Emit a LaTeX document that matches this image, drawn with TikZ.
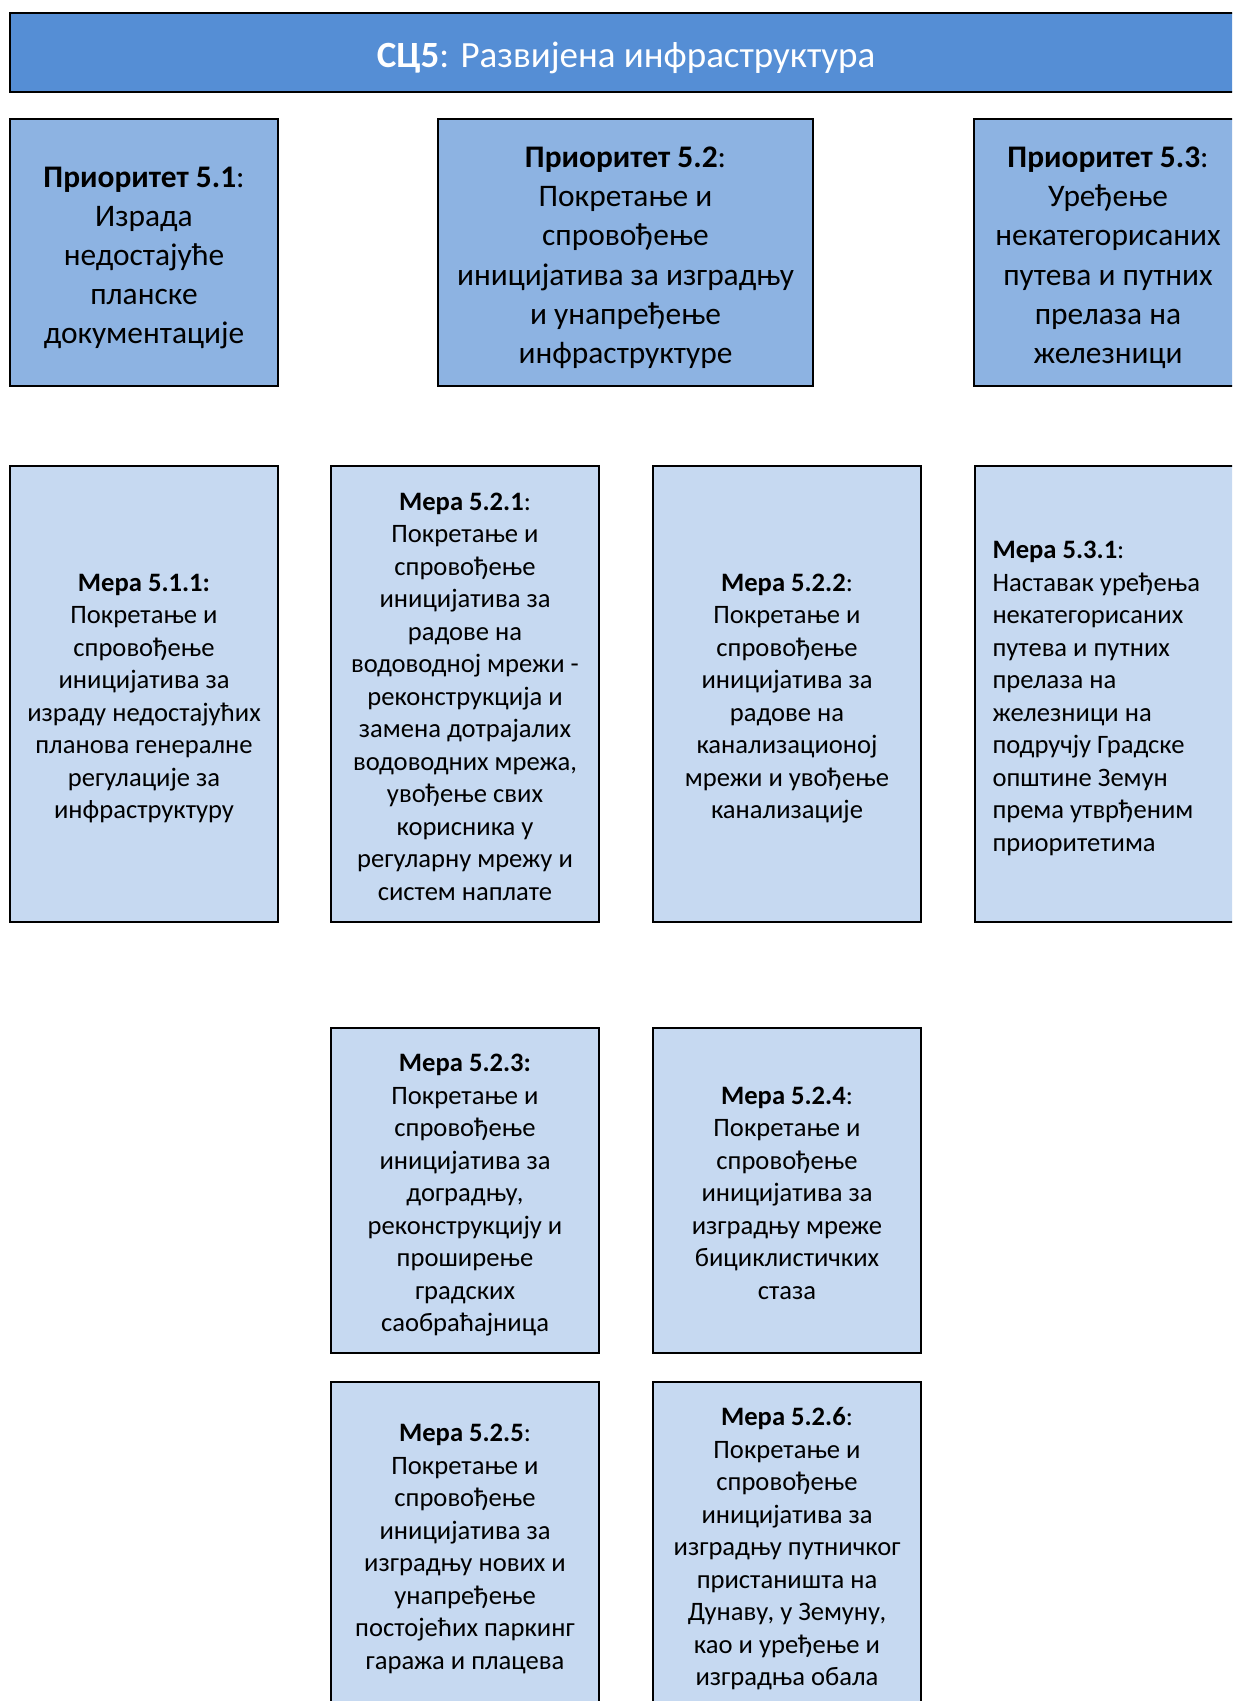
\documentclass[tikz,border=0pt]{standalone}
\usepackage{fontspec}
\setmainfont{Carlito}
\definecolor{bannerblue}{RGB}{85,142,213}
\definecolor{priofill}{RGB}{141,179,226}
\definecolor{merafill}{RGB}{198,217,241}
\newcommand{\topstrut}{\rule{0pt}{1.1em}}
\newcommand{\botstrut}{\rule[-0.269em]{0pt}{0pt}}
\tikzset{
  wordbox/.style={draw=black, line width=1.2pt, inner sep=0pt,
    execute at begin node=\topstrut, execute at end node=\botstrut},
  banner/.style={wordbox, fill=bannerblue, text=white,
    minimum width=616pt, minimum height=39.5pt,
    font=\fontsize{18.5}{22.5}\selectfont},
  prio/.style={wordbox, fill=priofill, align=flush center, text width=130pt,
    minimum height=133.5pt, font=\fontsize{15.7}{19.6}\selectfont},
  mera/.style={wordbox, fill=merafill, align=flush center, text width=130pt,
    minimum width=134pt, font=\fontsize{13.3}{16.25}\selectfont},
}
\begin{document}
\begin{tikzpicture}[x=0.5pt,y=-0.5pt]
  \useasboundingbox (0,0) rectangle (1232,1701);
  \clip (0,0) rectangle (1232,1701);
  % goal
  \node[banner] (sc5) at (626,52.5) {\textbf{СЦ5}: Развијена инфраструктура};
  % priorities
  \node[prio, minimum width=134pt] (p51) at (144,252.5)
    {\textbf{Приоритет 5.1}:\\Израда\\недостајуће\\планске\\документације};
  \node[prio, minimum width=187.5pt, text width=184pt] (p52) at (625.5,252.5)
    {\textbf{Приоритет 5.2}:\\Покретање и\\спровођење\\иницијатива за изградњу\\и унапређење\\инфраструктуре};
  \node[prio, minimum width=134pt] (p53) at (1108,252.5)
    {\textbf{Приоритет 5.3}:\\Уређење\\некатегорисаних\\путева и путних\\прелаза на\\железници};
  % measures, first row
  \node[mera, minimum height=228pt] (m511) at (144,694)
    {\textbf{Мера 5.1.1:}\\Покретање и\\спровођење\\иницијатива за\\израду недостајућих\\планова генералне\\регулације за\\инфраструктуру};
  \node[mera, minimum height=228pt] (m521) at (465,694)
    {\textbf{Мера 5.2.1}:\\Покретање и\\спровођење\\иницијатива за\\радове на\\водоводној мрежи -\\реконструкција и\\замена дотрајалих\\водоводних мрежа,\\увођење свих\\корисника у\\регуларну мрежу и\\систем наплате};
  \node[mera, minimum height=228pt] (m522) at (787,694)
    {\textbf{Мера 5.2.2}:\\Покретање и\\спровођење\\иницијатива за\\радове на\\канализационој\\мрежи и увођење\\канализације};
  \node[mera, minimum height=228pt, align=flush left, text width=116.5pt] (m531) at (1109,694)
    {\textbf{Мера 5.3.1}:\\Наставак уређења\\некатегорисаних\\путева и путних\\прелаза на\\железници на\\подручју Градске\\општине Земун\\према утврђеним\\приоритетима};
  % measures, lower rows
  \node[mera, minimum height=162.5pt] (m523) at (465,1190.5)
    {\textbf{Мера 5.2.3:}\\Покретање и\\спровођење\\иницијатива за\\доградњу,\\реконструкцију и\\проширење\\градских\\саобраћајница};
  \node[mera, minimum height=162.5pt] (m524) at (787,1190.5)
    {\textbf{Мера 5.2.4}:\\Покретање и\\спровођење\\иницијатива за\\изградњу мреже\\бициклистичких\\стаза};
  \node[mera, minimum height=162.5pt] (m525) at (465,1544.5)
    {\textbf{Мера 5.2.5}:\\Покретање и\\спровођење\\иницијатива за\\изградњу нових и\\унапређење\\постојећих паркинг\\гаража и плацева};
  \node[mera, minimum height=162.5pt] (m526) at (787,1544.5)
    {\textbf{Мера 5.2.6}:\\Покретање и\\спровођење\\иницијатива за\\изградњу путничког\\пристаништа на\\Дунаву, у Земуну,\\као и уређење и\\изградња обала};
\end{tikzpicture}
\end{document}
